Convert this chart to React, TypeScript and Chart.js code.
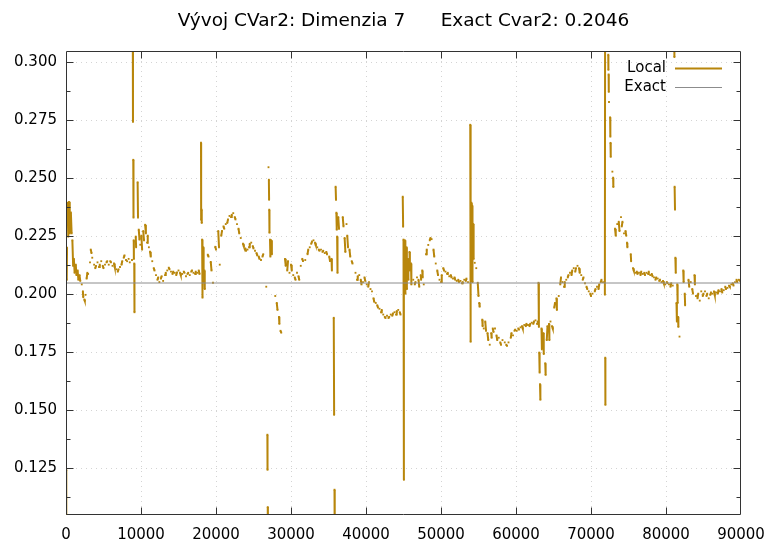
import React, { useEffect, useRef } from "react";
import { Chart, registerables } from "chart.js";

Chart.register(...registerables);

const FONT = "'DejaVu Sans', Verdana, sans-serif";
const titleText = "Vývoj CVar2: Dimenzia 7      Exact Cvar2: 0.2046";
const exactCvar2 = 0.2046;
const seriesLabels = ["Local", "Exact"];
const xRange = [0, 90000];
const yRange = [0.1046, 0.3046];
const xTickValues = [0, 10000, 20000, 30000, 40000, 50000, 60000, 70000, 80000, 90000];
const yTickValues = [0.125, 0.15, 0.175, 0.2, 0.225, 0.25, 0.275, 0.3];
const yMinorTickValues = [0.1125, 0.1375, 0.1625, 0.1875, 0.2125, 0.2375, 0.2625, 0.2875];

// Local CVar2 estimate: short runs [iter, value, iter, value, ...]; gaps between runs
const localRunsA: number[][] = [
  [0, 0.09, 40, 0.124], [100, 0.206, 140, 0.2198], [200, 0.2392, 300, 0.2246, 400, 0.2396, 500, 0.226],
  [650, 0.235, 750, 0.226], [850, 0.223, 950, 0.212], [1050, 0.215, 1150, 0.209], [1300, 0.2125, 1400, 0.208],
  [1550, 0.21, 1650, 0.206], [1800, 0.208, 1900, 0.2055], [2100, 0.204], [2250, 0.201, 2300, 0.1985],
  [2450, 0.1975, 2500, 0.197], [2600, 0.1995], [2750, 0.2065, 2850, 0.209], [2950, 0.2085], [3200, 0.2135],
  [3300, 0.219, 3400, 0.2175], [3500, 0.2155], [3750, 0.2125], [3900, 0.211, 4000, 0.212], [4200, 0.2135],
  [4400, 0.2115, 4500, 0.2125], [4700, 0.214], [4900, 0.212, 5000, 0.211], [5200, 0.2125], [5400, 0.2135, 5500, 0.214],
  [5700, 0.2125], [5900, 0.214, 6000, 0.2135], [6200, 0.212], [6400, 0.213, 6500, 0.2115], [6700, 0.2105],
  [6900, 0.2095, 7000, 0.2105], [7200, 0.2115], [7400, 0.2125, 7500, 0.214], [7700, 0.2155, 7800, 0.2165],
  [8000, 0.2145], [8150, 0.214], [8350, 0.215], [8500, 0.2135], [8800, 0.2145],
  [8900, 0.32, 8930, 0.2741], [8970, 0.2577, 9000, 0.2328], [9030, 0.223, 9050, 0.215], [9100, 0.213, 9130, 0.192],
  [9300, 0.2246, 9350, 0.22], [9550, 0.248, 9600, 0.2328], [9700, 0.2276, 9800, 0.2233], [9900, 0.2211],
  [10050, 0.225, 10150, 0.219], [10300, 0.227, 10400, 0.223], [10550, 0.2297, 10650, 0.226], [10800, 0.222, 10900, 0.225],
  [11050, 0.22], [11200, 0.2181, 11300, 0.216], [11500, 0.214], [11700, 0.211, 11800, 0.21], [12000, 0.208],
  [12200, 0.206, 12300, 0.207], [12450, 0.205], [12650, 0.2065, 12750, 0.2075], [12950, 0.2055],
  [13200, 0.208, 13300, 0.209], [13500, 0.21], [13700, 0.2112, 13800, 0.2105], [14000, 0.2095],
  [14200, 0.2085, 14300, 0.2095], [14500, 0.209], [14700, 0.208, 14800, 0.2092], [15000, 0.21],
  [15200, 0.209, 15300, 0.208], [15500, 0.2085], [15700, 0.2095, 15800, 0.209], [16000, 0.2075],
  [16200, 0.2085, 16300, 0.209], [16500, 0.208], [16700, 0.2095, 16800, 0.21], [17000, 0.209],
  [17200, 0.2085, 17300, 0.2095], [17500, 0.209], [17700, 0.21, 17800, 0.2085],
  [18000, 0.2651, 18020, 0.2319], [18080, 0.2362, 18100, 0.2305], [18150, 0.2233, 18200, 0.1983],
  [18300, 0.22, 18350, 0.205], [18450, 0.21, 18500, 0.202], [18900, 0.2168, 19000, 0.216], [19300, 0.2137, 19400, 0.21],
  [19600, 0.2047], [19900, 0.2202, 20000, 0.219], [20300, 0.227, 20400, 0.22], [20500, 0.2125],
  [20700, 0.225, 20800, 0.227], [21000, 0.229, 21100, 0.228], [21300, 0.23], [21500, 0.2305, 21600, 0.232],
  [21800, 0.2335], [22000, 0.233, 22100, 0.234], [22300, 0.2347], [22500, 0.233, 22600, 0.232], [22800, 0.23],
  [23000, 0.228, 23100, 0.226], [23300, 0.224], [23600, 0.2215, 23700, 0.2205], [23900, 0.2195, 24000, 0.2185],
  [24200, 0.219], [24400, 0.22, 24500, 0.2215], [24700, 0.222], [24900, 0.2205, 25000, 0.2195], [25200, 0.2185],
  [25400, 0.2175, 25500, 0.2165], [25700, 0.216, 25800, 0.215], [26000, 0.2145], [26200, 0.216, 26300, 0.217],
  [26700, 0.203], [26850, 0.1392, 26870, 0.1241], [26900, 0.108, 26920, 0.09], [27000, 0.2545],
  [27050, 0.2491, 27080, 0.2405], [27100, 0.2362, 27130, 0.2263], [27200, 0.2233, 27250, 0.216],
  [27350, 0.223, 27450, 0.217], [27900, 0.199], [28100, 0.196, 28200, 0.193], [28400, 0.19, 28450, 0.187],
  [28600, 0.184, 28700, 0.1832], [29200, 0.215, 29300, 0.212], [29500, 0.21, 29600, 0.214], [29800, 0.209],
];

const localRunsB: number[][] = [
  [30000, 0.2125, 30100, 0.21], [30300, 0.208], [30500, 0.207, 30600, 0.206], [30800, 0.209],
  [31000, 0.2075, 31100, 0.206], [31300, 0.212], [31500, 0.215, 31600, 0.214], [31900, 0.2145],
  [32200, 0.217, 32300, 0.219], [32500, 0.22], [32700, 0.2215, 32800, 0.2225], [33000, 0.223],
  [33200, 0.222, 33300, 0.221], [33500, 0.22], [33700, 0.219, 33800, 0.2185], [34000, 0.219],
  [34200, 0.218, 34300, 0.2185], [34500, 0.2175], [34700, 0.218, 34800, 0.217], [35100, 0.216, 35200, 0.214],
  [35400, 0.215, 35450, 0.21], [35700, 0.1896, 35750, 0.1478], [35800, 0.1155, 35830, 0.09],
  [35950, 0.2461, 36000, 0.2405], [36050, 0.2349, 36100, 0.2276], [36150, 0.2246, 36200, 0.209],
  [36300, 0.233, 36400, 0.228], [36900, 0.233, 37000, 0.229], [37150, 0.224, 37250, 0.218], [37400, 0.23],
  [37500, 0.225, 37600, 0.22], [37800, 0.219, 37900, 0.216], [38100, 0.214, 38200, 0.213], [38600, 0.209],
  [38800, 0.206, 38900, 0.2075], [39100, 0.208], [39300, 0.206, 39400, 0.204], [39600, 0.205],
  [39800, 0.207, 39900, 0.2055], [40100, 0.204], [40300, 0.203, 40400, 0.205], [40600, 0.202], [40800, 0.201],
  [41000, 0.198, 41100, 0.1965], [41300, 0.196], [41500, 0.195, 41600, 0.194], [41800, 0.1935],
  [42000, 0.192, 42100, 0.193], [42300, 0.191], [42500, 0.19, 42600, 0.1895], [42800, 0.1905],
  [43000, 0.1895, 43100, 0.19], [43300, 0.191], [43500, 0.1905, 43600, 0.1915], [43800, 0.192],
  [44000, 0.191, 44100, 0.1925], [44300, 0.193], [44500, 0.192, 44600, 0.191],
  [44900, 0.2418, 44950, 0.2289], [45000, 0.2233, 45050, 0.1198], [45200, 0.223, 45250, 0.2],
  [45400, 0.22, 45450, 0.202], [45600, 0.215, 45650, 0.206], [45800, 0.218, 45850, 0.21], [46000, 0.213, 46050, 0.204],
  [46300, 0.206], [46500, 0.204, 46600, 0.205], [46800, 0.207], [47000, 0.206, 47100, 0.203],
  [47300, 0.208, 47350, 0.206], [47500, 0.21, 47550, 0.207], [47700, 0.204], [48000, 0.217, 48100, 0.219],
  [48300, 0.221], [48500, 0.223, 48600, 0.224], [48750, 0.2235], [49000, 0.219, 49100, 0.216], [49300, 0.213],
  [49500, 0.21, 49600, 0.208], [49800, 0.206], [50000, 0.205, 50100, 0.208], [50300, 0.211, 50400, 0.21],
  [50600, 0.2095], [50800, 0.2085, 50900, 0.209], [51100, 0.2075], [51300, 0.208, 51400, 0.207], [51600, 0.2065],
  [51800, 0.207, 51900, 0.206], [52100, 0.2055], [52300, 0.206, 52400, 0.205], [52600, 0.2055],
  [52800, 0.2045, 52900, 0.205], [53100, 0.206], [53300, 0.2055, 53400, 0.2065], [53600, 0.205],
  [53900, 0.2728, 53950, 0.1793], [54050, 0.2392, 54100, 0.2202], [54150, 0.238, 54200, 0.205],
  [54300, 0.23, 54350, 0.215], [54500, 0.2133], [54700, 0.211], [54900, 0.2047, 55000, 0.199],
  [55100, 0.196, 55150, 0.1944], [55500, 0.1888, 55550, 0.186], [55700, 0.185], [55900, 0.188, 56000, 0.184],
  [56200, 0.183, 56300, 0.18], [56500, 0.178], [56700, 0.183, 56750, 0.181], [56900, 0.185, 57000, 0.1835],
  [57200, 0.185], [57400, 0.182, 57500, 0.18], [57700, 0.181], [57900, 0.179, 58000, 0.178], [58200, 0.18],
  [58500, 0.179], [58700, 0.178, 58800, 0.1775], [59000, 0.179], [59300, 0.181, 59400, 0.183], [59600, 0.182],
  [59800, 0.184, 59900, 0.1845],
];

const localRunsC: number[][] = [
  [60100, 0.184], [60300, 0.185, 60400, 0.1845], [60600, 0.1855], [60800, 0.186, 60900, 0.185], [61100, 0.1865],
  [61300, 0.186, 61400, 0.187], [61600, 0.1865], [61800, 0.186, 61900, 0.187], [62100, 0.1875],
  [62300, 0.187, 62400, 0.188], [62600, 0.1885], [62800, 0.187, 62900, 0.188],
  [63000, 0.2047, 63050, 0.1857], [63100, 0.1746, 63150, 0.166], [63200, 0.161, 63250, 0.1543],
  [63400, 0.185, 63450, 0.176], [63650, 0.183, 63700, 0.174], [63900, 0.17, 63950, 0.165], [64100, 0.18, 64200, 0.186],
  [64400, 0.187, 64450, 0.18], [64600, 0.188], [64800, 0.186, 64900, 0.185], [65100, 0.194, 65200, 0.196],
  [65400, 0.198, 65450, 0.193], [65700, 0.199], [65900, 0.204, 66000, 0.207], [66200, 0.205],
  [66400, 0.203, 66500, 0.205], [66700, 0.206], [66900, 0.207, 67000, 0.208], [67200, 0.209],
  [67400, 0.208, 67500, 0.21], [67700, 0.211], [67900, 0.2095, 68000, 0.211], [68200, 0.212],
  [68400, 0.211, 68500, 0.209], [68700, 0.208], [68900, 0.206, 69000, 0.207], [69200, 0.2045],
  [69400, 0.203, 69500, 0.202], [69700, 0.201], [69900, 0.2, 70000, 0.199], [70200, 0.2],
  [70500, 0.201, 70600, 0.202], [70800, 0.203], [71000, 0.202, 71100, 0.204], [71300, 0.205, 71400, 0.206],
  [71600, 0.205], [71850, 0.1996, 71880, 0.32], [71900, 0.1724, 71920, 0.1521],
  [72300, 0.303, 72320, 0.2965], [72350, 0.2945, 72370, 0.287], [72400, 0.2826], [72550, 0.276, 72580, 0.2677],
  [72600, 0.265, 72630, 0.259], [72850, 0.2526], [72950, 0.25, 72980, 0.246], [73200, 0.228, 73300, 0.225],
  [73500, 0.23], [73700, 0.231, 73800, 0.227], [74000, 0.233], [74100, 0.229, 74200, 0.231], [74400, 0.226],
  [74600, 0.227, 74700, 0.225], [74800, 0.222, 74850, 0.22], [75300, 0.217, 75350, 0.214],
  [75600, 0.211, 75700, 0.21], [75900, 0.209], [76100, 0.2095, 76200, 0.2085], [76400, 0.209],
  [76600, 0.208, 76700, 0.2095], [76900, 0.2085], [77100, 0.209, 77200, 0.208], [77400, 0.209],
  [77600, 0.2085, 77700, 0.2095], [77900, 0.208], [78100, 0.2085, 78200, 0.2075], [78400, 0.207],
  [78600, 0.206, 78700, 0.207], [78900, 0.2065], [79100, 0.2055, 79200, 0.206], [79400, 0.205],
  [79600, 0.2055, 79700, 0.2045], [79900, 0.204], [80100, 0.205, 80200, 0.2045], [80400, 0.204],
  [80600, 0.203, 80700, 0.2045], [80900, 0.2035], [81100, 0.32, 81120, 0.302],
  [81150, 0.2461, 81200, 0.2362], [81250, 0.2155, 81300, 0.209], [81400, 0.196, 81450, 0.188],
  [81500, 0.204, 81550, 0.196], [81600, 0.19, 81650, 0.1857], [81800, 0.1815], [82300, 0.21, 82350, 0.205],
  [82500, 0.2, 82550, 0.195], [83000, 0.206, 83100, 0.203], [83300, 0.205], [83500, 0.202, 83600, 0.2],
  [83800, 0.208, 83850, 0.204], [84000, 0.199], [84200, 0.198, 84300, 0.2], [84500, 0.197], [84700, 0.201],
  [84900, 0.199, 85000, 0.2], [85200, 0.201], [85400, 0.199, 85500, 0.2], [85700, 0.198],
  [85900, 0.1995, 86000, 0.2005], [86200, 0.2], [86400, 0.201, 86500, 0.1995], [86700, 0.2005],
  [86900, 0.2, 87000, 0.2015], [87200, 0.201], [87400, 0.202, 87500, 0.2005], [87700, 0.2015],
  [87900, 0.203, 88000, 0.202], [88200, 0.2025], [88400, 0.2035, 88500, 0.203], [88700, 0.204],
  [88900, 0.2045, 89000, 0.2035], [89200, 0.205], [89400, 0.206, 89500, 0.205], [89700, 0.206, 89900, 0.2055],
];

const LOCAL_COLOR = "#b8860b";
const EXACT_COLOR = "#8c8c8c";
const FRAME_COLOR = "#333333";

function buildPoints(runs: number[][]) {
  const pts: { x: number; y: number | null }[] = [];
  for (const run of runs) {
    for (let i = 0; i < run.length; i += 2) pts.push({ x: run[i], y: run[i + 1] });
    pts.push({ x: run[run.length - 2], y: null });
  }
  return pts;
}

const gnuplotFrame = {
  id: "gnuplotFrame",
  beforeDatasetsDraw(chart: any) {
    const { ctx, chartArea: a, scales } = chart;
    const xs = scales.x;
    const ys = scales.y;
    ctx.save();
    ctx.strokeStyle = "#d4d4d4";
    ctx.lineWidth = 1;
    ctx.setLineDash([1, 4]);
    ctx.beginPath();
    for (const v of xTickValues) {
      if (v <= xRange[0] || v >= xRange[1]) continue;
      const px = Math.round(xs.getPixelForValue(v)) + 0.5;
      ctx.moveTo(px, a.top);
      ctx.lineTo(px, a.bottom);
    }
    for (const v of yTickValues) {
      const py = Math.round(ys.getPixelForValue(v)) + 0.5;
      ctx.moveTo(a.left, py);
      ctx.lineTo(a.right, py);
    }
    ctx.stroke();
    ctx.restore();
  },
  afterDatasetsDraw(chart: any) {
    const { ctx, chartArea: a, scales } = chart;
    const xs = scales.x;
    const ys = scales.y;
    const L = Math.round(a.left) + 0.5;
    const R = Math.round(a.right) - 0.5;
    const T = Math.round(a.top) + 0.5;
    const B = Math.round(a.bottom) - 0.5;
    ctx.save();
    ctx.strokeStyle = FRAME_COLOR;
    ctx.lineWidth = 1;
    ctx.beginPath();
    ctx.rect(L, T, R - L, B - T);
    const major = 7;
    const minor = 4;
    for (const v of xTickValues) {
      if (v <= xRange[0] || v >= xRange[1]) continue;
      const px = Math.round(xs.getPixelForValue(v)) + 0.5;
      ctx.moveTo(px, B);
      ctx.lineTo(px, B - major);
      ctx.moveTo(px, T);
      ctx.lineTo(px, T + major);
    }
    for (const v of yTickValues) {
      const py = Math.round(ys.getPixelForValue(v)) + 0.5;
      ctx.moveTo(L, py);
      ctx.lineTo(L + major, py);
      ctx.moveTo(R, py);
      ctx.lineTo(R - major, py);
    }
    for (const v of yMinorTickValues) {
      const py = Math.round(ys.getPixelForValue(v)) + 0.5;
      ctx.moveTo(L, py);
      ctx.lineTo(L + minor, py);
      ctx.moveTo(R, py);
      ctx.lineTo(R - minor, py);
    }
    ctx.stroke();

    // X tick labels (drawn here so they do not alter the plot area)
    ctx.font = `15px ${FONT}`;
    ctx.fillStyle = "#000";
    ctx.textAlign = "center";
    ctx.textBaseline = "middle";
    for (const v of xTickValues) {
      ctx.fillText(String(v), xs.getPixelForValue(v), a.bottom + 20);
    }

    // Legend (top right, inside plot)
    ctx.textAlign = "right";
    const legendTextRight = a.right - 75;
    const lineX0 = a.right - 66;
    const lineX1 = a.right - 19;
    const rows = [
      { label: seriesLabels[0], color: LOCAL_COLOR, width: 2, y: 68.5 },
      { label: seriesLabels[1], color: EXACT_COLOR, width: 1, y: 87.5 },
    ];
    for (const r of rows) {
      ctx.fillText(r.label, legendTextRight, r.y);
      ctx.beginPath();
      ctx.strokeStyle = r.color;
      ctx.lineWidth = r.width;
      ctx.moveTo(lineX0, r.y);
      ctx.lineTo(lineX1, r.y);
      ctx.stroke();
    }

    // Title
    ctx.font = `18.5px ${FONT}`;
    ctx.textAlign = "center";
    ctx.textBaseline = "alphabetic";
    ctx.fillText(titleText, (a.left + a.right) / 2, 26);
    ctx.restore();
  },
};

export default function App() {
  const canvasRef = useRef<HTMLCanvasElement | null>(null);

  useEffect(() => {
    const canvas = canvasRef.current;
    if (!canvas) return;
    const localPoints = buildPoints([...localRunsA, ...localRunsB, ...localRunsC]);
    const chart = new Chart(canvas, {
      type: "line",
      data: {
        datasets: [
          {
            label: seriesLabels[1],
            data: [
              { x: xRange[0], y: exactCvar2 },
              { x: xRange[1], y: exactCvar2 },
            ],
            borderColor: EXACT_COLOR,
            borderWidth: 1,
            pointRadius: 0,
            clip: 0,
          },
          {
            label: seriesLabels[0],
            data: localPoints,
            borderColor: LOCAL_COLOR,
            backgroundColor: LOCAL_COLOR,
            borderWidth: 2,
            pointRadius: 1.3,
            pointStyle: "rect",
            pointBorderWidth: 0,
            pointHoverRadius: 0,
            spanGaps: false,
            tension: 0,
            clip: 0,
          },
        ],
      } as any,
      options: {
        responsive: false,
        animation: false,
        events: [],
        layout: { padding: { top: 51, right: 28, left: 0, bottom: 0 } },
        plugins: {
          legend: { display: false },
          title: { display: false },
          tooltip: { enabled: false },
        },
        scales: {
          x: {
            type: "linear",
            min: xRange[0],
            max: xRange[1],
            grid: { display: false, drawTicks: false },
            border: { display: false },
            afterBuildTicks: (s: any) => {
              s.ticks = xTickValues.map((v) => ({ value: v }));
            },
            afterFit: (s: any) => {
              s.height = 25;
            },
            ticks: { display: false },
          },
          y: {
            type: "linear",
            min: yRange[0],
            max: yRange[1],
            grid: { display: false, drawTicks: false },
            border: { display: false },
            afterBuildTicks: (s: any) => {
              s.ticks = yTickValues.map((v) => ({ value: v }));
            },
            afterFit: (s: any) => {
              s.width = 66;
            },
            ticks: {
              autoSkip: false,
              padding: 9,
              color: "#000",
              font: { family: FONT, size: 15 },
              callback: (v: any) => Number(v).toFixed(3),
            },
          },
        },
      },
      plugins: [gnuplotFrame],
    });
    return () => chart.destroy();
  }, []);

  return (
    <div style={{ position: "fixed", left: 0, top: 0, width: 769, height: 540, background: "#fff" }}>
      <canvas ref={canvasRef} width={769} height={540} style={{ display: "block" }} />
    </div>
  );
}
